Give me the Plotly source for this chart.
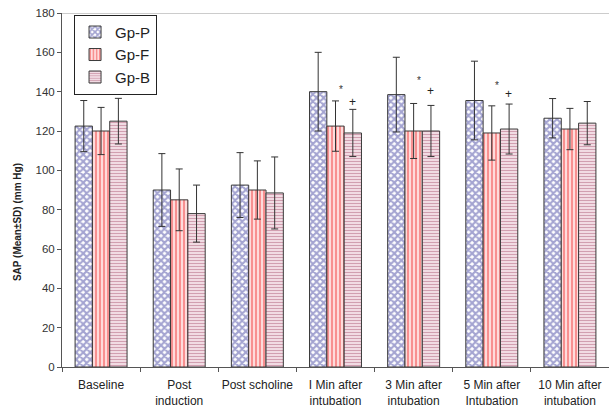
import plotly.graph_objects as go

categories = ["Baseline", "Post<br>induction", "Post scholine", "I Min after<br>intubation",
              "3 Min after<br>intubation", "5 Min after<br>Intubation", "10 Min after<br>intubation"]
gp_p = [122.5, 90, 92.5, 140, 138.5, 135.5, 126.5]
gp_p_sd = [13, 18.5, 16.5, 20, 19, 20, 10]
gp_f = [120, 85, 90, 122.5, 120, 119, 121]
gp_f_sd = [12, 15.7, 14.8, 12.8, 14, 13.8, 10.5]
gp_b = [125, 78, 88.5, 119, 120, 121, 124]
gp_b_sd = [11.6, 14.5, 18.3, 12, 13, 12.7, 11]

# significance markers (category index, y value)
star_idx = [3, 4, 5]
star_y = [141, 145.5, 143]
plus_idx = [3, 4, 5]
plus_y = [135, 140.5, 139]

y_ticks = list(range(0, 181, 20))

err_style = dict(type="data", visible=True, color="#333333", thickness=1, width=3.5)
line_style = dict(color="#3a3a3a", width=1)

fig = go.Figure()
fig.add_trace(go.Bar(
    name="Gp-P", x=categories, y=gp_p,
    error_y=dict(array=gp_p_sd, **err_style),
    marker=dict(color="white", line=line_style,
                pattern=dict(shape="x", fgcolor="#4a4aa4", bgcolor="white", size=5, solidity=0.65)),
))
fig.add_trace(go.Bar(
    name="Gp-F", x=categories, y=gp_f,
    error_y=dict(array=gp_f_sd, **err_style),
    marker=dict(color="white", line=line_style,
                pattern=dict(shape="|", fgcolor="#f23c3c", bgcolor="#ffe4e4", size=4, solidity=0.55)),
))
fig.add_trace(go.Bar(
    name="Gp-B", x=categories, y=gp_b,
    error_y=dict(array=gp_b_sd, **err_style),
    marker=dict(color="white", line=line_style,
                pattern=dict(shape="-", fgcolor="#a8506e", bgcolor="#fbeff3", size=3, solidity=0.5)),
))

annotations = []
for i, yv in zip(star_idx, star_y):
    annotations.append(dict(x=categories[i], y=yv, text="*", showarrow=False, xshift=5,
                            font=dict(size=10, color="#333333", family="Arial")))
for i, yv in zip(plus_idx, plus_y):
    annotations.append(dict(x=categories[i], y=yv, text="+", showarrow=False, xshift=17,
                            font=dict(size=12, color="#222222", family="Arial")))
annotations.append(dict(x=-0.08, xref="paper", y=0.41, yref="paper", text="<b>SAP (Mean±SD) (mm Hg)</b>",
                        textangle=-90, showarrow=False, xanchor="center", yanchor="middle",
                        font=dict(size=10, color="#222222", family="Arial")))

fig.update_layout(
    width=609, height=412,
    margin=dict(l=62, r=0, t=13, b=45, autoexpand=False),
    paper_bgcolor="white", plot_bgcolor="white",
    barmode="group", bargap=0.335, bargroupgap=0,
    font=dict(family="Arial, Liberation Sans", color="#222222"),
    showlegend=True,
    legend=dict(x=0.022, y=0.995, xanchor="left", yanchor="top",
                bordercolor="#222222", borderwidth=1, bgcolor="white",
                font=dict(size=15, family="Arial, Liberation Sans", color="#222222"),
                itemwidth=30, tracegroupgap=0),
    annotations=annotations,
    xaxis=dict(showline=True, linecolor="#555555", linewidth=1, ticks="outside", tickson="boundaries",
               ticklen=4, tickcolor="#555555", tickfont=dict(size=12, color="#222222"),
               tickangle=0, automargin=False,
               ticklabelstandoff=7, showgrid=False, zeroline=False),
    yaxis=dict(range=[0, 180], tickvals=y_ticks, showline=True, linecolor="#555555", linewidth=1,
               ticks="outside", ticklen=4, tickcolor="#555555", tickfont=dict(size=11.5, color="#333333"),
               automargin=False, showgrid=False, zeroline=False),
    shapes=[dict(type="line", xref="paper", yref="y", x0=0, x1=1, y0=180, y1=180,
                 line=dict(color="#bbbbbb", width=1.5))],
)

fig.write_html("out.html")
